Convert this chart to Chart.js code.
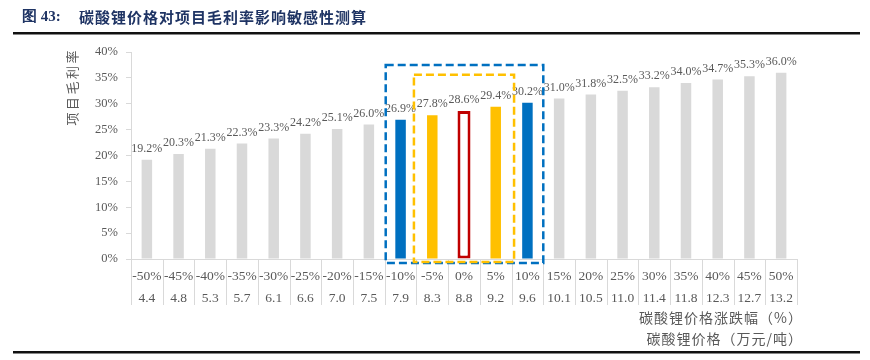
<!DOCTYPE html>
<html><head><meta charset="utf-8">
<script src="https://cdn.jsdelivr.net/npm/chart.js@4/dist/chart.umd.min.js"></script>
<style>
html,body{margin:0;padding:0;background:#fff;}
#wrap{position:relative;width:870px;height:360px;}
canvas{position:absolute;left:0;top:0;}
</style></head><body>
<div id="wrap"><canvas id="c" width="870" height="360"></canvas></div>
<script>
// ---- data ----
const changePct = ['-50%','-45%','-40%','-35%','-30%','-25%','-20%','-15%','-10%','-5%','0%','5%','10%','15%','20%','25%','30%','35%','40%','45%','50%'];
const prices = ['4.4','4.8','5.3','5.7','6.1','6.6','7.0','7.5','7.9','8.3','8.8','9.2','9.6','10.1','10.5','11.0','11.4','11.8','12.3','12.7','13.2'];
const margins = [19.2,20.3,21.3,22.3,23.3,24.2,25.1,26.0,26.9,27.8,28.6,29.4,30.2,31.0,31.8,32.5,33.2,34.0,34.7,35.3,36.0];
const yTicks = [0,5,10,15,20,25,30,35,40];
const titleNo = '图 43:';
const titleText = '碳酸锂价格对项目毛利率影响敏感性测算';
const yTitle = '项目毛利率';
const xTitles = ['碳酸锂价格涨跌幅（%）','碳酸锂价格（万元/吨）'];
const baseIndex = 10;

// ---- styling helpers ----
const GREY = '#D9D9D9', BLUE = '#0070C0', YELLOW = '#FFC000', RED = '#C00000', TXT = '#595959';
function colorFor(i){
  const d = Math.abs(i - baseIndex);
  if (d === 1) return YELLOW;
  if (d === 2) return BLUE;
  return GREY;
}
const mainData = margins.map((v,i)=> i===baseIndex ? null : v);
const baseData = margins.map((v,i)=> i===baseIndex ? v : null);
const labels = changePct.map((p,i)=>[p, prices[i]]);

const serif = '"Liberation Serif", "Times New Roman", serif';
const cjk = '"Noto Sans CJK SC", sans-serif';

const decor = {
  id:'decor',
  afterDatasetsDraw(chart){
    const ctx = chart.ctx;
    ctx.save();
    ctx.font = '12px ' + serif;
    ctx.fillStyle = TXT;
    ctx.textAlign = 'center';
    ctx.textBaseline = 'bottom';
    chart.data.datasets.forEach((ds,di)=>{
      const meta = chart.getDatasetMeta(di);
      meta.data.forEach((el,i)=>{
        const v = ds.data[i];
        if (v === null || v === undefined) return;
        ctx.fillText(v.toFixed(1)+'%', el.x, el.y - 5);
      });
    });
    ctx.restore();
  },
  afterDraw(chart){
    const ctx = chart.ctx;
    const xs = chart.scales.x, ys = chart.scales.y;
    const half = (xs.getPixelForValue(1) - xs.getPixelForValue(0))/2;
    const bnd = i => xs.getPixelForValue(i) - half;
    ctx.save();
    // category separators through the label table
    ctx.strokeStyle = GREY; ctx.lineWidth = 1;
    for (let i=0;i<=labels.length;i++){
      const x = Math.round(bnd(i))+0.5;
      ctx.beginPath(); ctx.moveTo(x, ys.bottom); ctx.lineTo(x, ys.bottom+46); ctx.stroke();
    }
    ctx.beginPath(); ctx.moveTo(bnd(0), Math.round(ys.bottom)+0.5); ctx.lineTo(bnd(labels.length), Math.round(ys.bottom)+0.5); ctx.stroke();
    // dashed highlight boxes
    ctx.lineWidth = 2.5;
    ctx.setLineDash([8,4]);
    ctx.strokeStyle = BLUE;
    ctx.strokeRect(bnd(baseIndex-2)+1, ys.getPixelForValue(37.5), bnd(baseIndex+3)-bnd(baseIndex-2)-1, ys.bottom+4-ys.getPixelForValue(37.5));
    ctx.strokeStyle = YELLOW;
    ctx.strokeRect(bnd(baseIndex-1)-2.5, ys.getPixelForValue(35.6), bnd(baseIndex+2)-bnd(baseIndex-1)+5, ys.bottom+3-ys.getPixelForValue(35.6));
    ctx.setLineDash([]);
    // title
    ctx.fillStyle = '#1F3464';
    ctx.textAlign = 'left'; ctx.textBaseline = 'middle';
    ctx.font = 'bold 15px ' + serif;
    ctx.fillText(titleNo, 22, 17);
    ctx.font = 'bold 15px ' + cjk;
    ctx.letterSpacing = '1px';
    ctx.fillText(titleText, 79, 17);
    ctx.letterSpacing = '0px';
    ctx.fillStyle = '#111';
    ctx.fillRect(13, 32, 847, 2.5);
    ctx.fillRect(13, 351, 847, 2.5);
    // y title (rotated)
    ctx.fillStyle = TXT;
    ctx.font = '13px ' + cjk;
    ctx.translate(72, 88);
    ctx.rotate(-Math.PI/2);
    ctx.textAlign = 'center';
    const chars = Array.from(yTitle);
    const step = 15.5;
    chars.forEach((c,k)=>{ ctx.fillText(c, (k-(chars.length-1)/2)*step, 0); });
    ctx.setTransform(1,0,0,1,0,0);
    // x titles
    ctx.textAlign = 'right'; ctx.textBaseline = 'middle';
    ctx.font = '14px ' + cjk;
    ctx.letterSpacing = '1px';
    ctx.fillText(xTitles[0], 803, 318);
    ctx.fillText(xTitles[1], 803, 339);
    ctx.letterSpacing = '0px';
    ctx.restore();
  }
};

new Chart(document.getElementById('c'), {
  type:'bar',
  data:{
    labels: labels,
    datasets:[
      { data: mainData, backgroundColor: margins.map((v,i)=>colorFor(i)), borderWidth:0,
        grouped:false, barPercentage: 10.5/31.7, categoryPercentage:1 },
      { data: baseData, backgroundColor:'#FFFFFF', borderColor: RED, borderWidth:3, borderSkipped:false,
        grouped:false, barPercentage: 13/31.7, categoryPercentage:1 }
    ]
  },
  options:{
    responsive:false, animation:false,
    layout:{ padding:{ top:52, right:73, bottom:55, left:0 } },
    plugins:{ legend:{display:false}, tooltip:{enabled:false} },
    scales:{
      x:{
        offset:true,
        grid:{ display:false },
        border:{ display:false },
        ticks:{ color:TXT, font:{ family:serif, size:13.5, lineHeight:'22px' }, padding:-2, maxRotation:0, autoSkip:false },
        afterFit(s){ s.height = 46; }
      },
      y:{
        min:0, max:40,
        afterBuildTicks(s){ s.ticks = yTicks.map(v=>({value:v})); },
        grid:{ drawOnChartArea:false, tickLength:5, color:GREY },
        border:{ color:GREY },
        ticks:{ color:TXT, font:{ family:serif, size:12.5 }, padding:8, callback:v=>v+'%' },
        afterFit(s){ s.width = 131; }
      }
    }
  },
  plugins:[decor]
});
</script>
</body></html>
